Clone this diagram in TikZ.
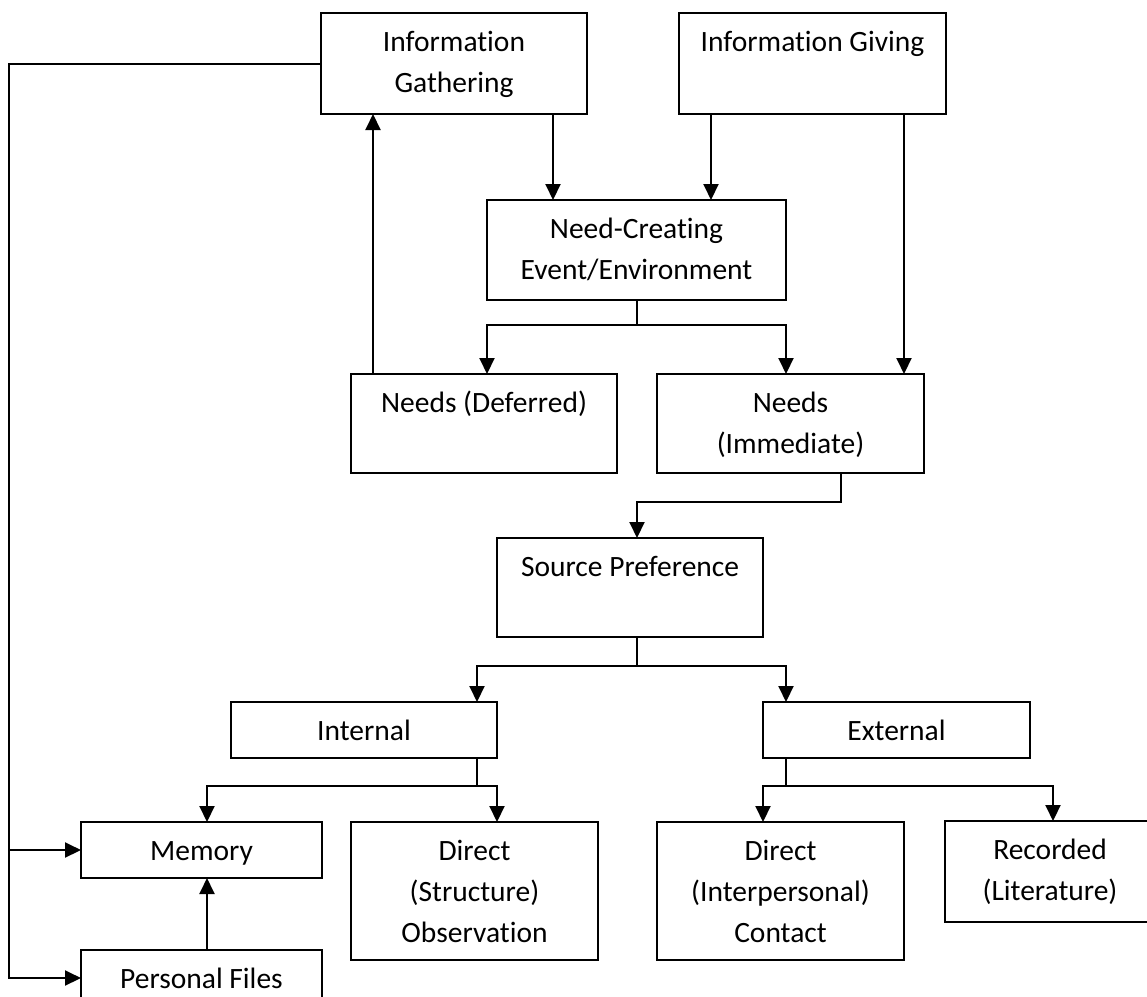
\documentclass[tikz,border=0pt]{standalone}
\usepackage{fontspec}
\setmainfont{Carlito}[Ligatures={NoCommon}]
\usetikzlibrary{arrows.meta,calc}
\tikzset{
  box/.style={draw, line width=2pt, inner sep=0pt, outer sep=0pt, font=\fontsize{29.5}{41}\selectfont},
  conn/.style={line width=2pt},
  arr/.style={conn, -{Triangle[length=16pt,width=15pt]}},
}
\newcommand{\bxt}[3]{\parbox[c][#2pt][t]{#1pt}{\centering\rule{0pt}{38.5pt}#3}}
\begin{document}
\begin{tikzpicture}[x=1pt,y=-1pt]
\useasboundingbox (0,0) rectangle (1147,996);
% boxes
\node[box] (gath) at (454,63.5)   {\bxt{266}{101}{Information\\Gathering}};
\node[box] (giv)  at (812.5,63.5) {\bxt{267}{101}{Information Giving}};
\node[box] (nce)  at (636.5,250)  {\bxt{299}{100}{Need-Creating\\Event/Environment}};
\node[box] (def)  at (484,423.5)  {\bxt{266}{99}{Needs (Deferred)}};
\node[box] (imm)  at (790.5,423.5){\bxt{267}{99}{Needs\\(Immediate)}};
\node[box] (sp)   at (630,587.5)  {\bxt{266}{99}{Source Preference}};
\node[box] (int)  at (364,730)    {\bxt{266}{56}{Internal}};
\node[box] (ext)  at (896.5,730)  {\bxt{267}{56}{External}};
\node[box] (mem)  at (201.5,850)  {\bxt{241}{56}{Memory}};
\node[box] (pf)   at (201.5,978)  {\bxt{241}{56}{Personal Files}};
\node[box] (dso)  at (474.5,891)  {\bxt{247}{138}{Direct\\(Structure)\\Observation}};
\node[box] (dic)  at (780.5,891)  {\bxt{247}{138}{Direct\\(Interpersonal)\\Contact}};
\node[box] (rec)  at (1050,871.5) {\bxt{210}{101}{Recorded\\(Literature)}};
% guide coordinates
\coordinate (gxL) at (9,0);
\coordinate (gx373) at (373,0);
\coordinate (gx553) at (553,0);
\coordinate (gx711) at (711,0);
\coordinate (gx904) at (904,0);
\coordinate (gx841) at (841,0);
\coordinate (gx637) at (637,0);
\coordinate (gx477) at (477,0);
\coordinate (gx786) at (786,0);
\coordinate (gx207) at (207,0);
\coordinate (gx1053) at (1053,0);
% junctions
\coordinate (j1) at ($(nce.south)+(0,25)$);
\coordinate (j2) at (841,502);
\coordinate (j3) at (637,666);
\coordinate (j4) at (477,786);
\coordinate (j5) at (786,786);
% connectors
\draw[arr] (gath.west) -| (gxL |- pf.west) -- (pf.west);
\draw[arr] (gxL |- mem.west) -- (mem.west);
\draw[arr] (gx373 |- def.north) -- (gx373 |- gath.south);
\draw[arr] (gx553 |- gath.south) -- (gx553 |- nce.north);
\draw[arr] (gx711 |- giv.south) -- (gx711 |- nce.north);
\draw[arr] (gx904 |- giv.south) -- (gx904 |- imm.north);
\draw[arr] (nce.south) -- (j1) -| (nce.south west |- def.north);
\draw[arr] (j1) -| (nce.south east |- imm.north);
\draw[arr] (gx841 |- imm.south) -- (j2) -| (gx637 |- sp.north);
\draw[arr] (gx637 |- sp.south) -- (j3) -| (gx477 |- int.north);
\draw[arr] (j3) -| (gx786 |- ext.north);
\draw[arr] (gx477 |- int.south) -- (j4) -| (gx207 |- mem.north);
\draw[arr] (j4) -| (int.south east |- dso.north);
\draw[arr] (gx786 |- ext.south) -- (j5) -| (ext.south west |- dic.north);
\draw[arr] (j5) -| (gx1053 |- rec.north);
\draw[arr] (gx207 |- pf.north) -- (gx207 |- mem.south);
\end{tikzpicture}
\end{document}
